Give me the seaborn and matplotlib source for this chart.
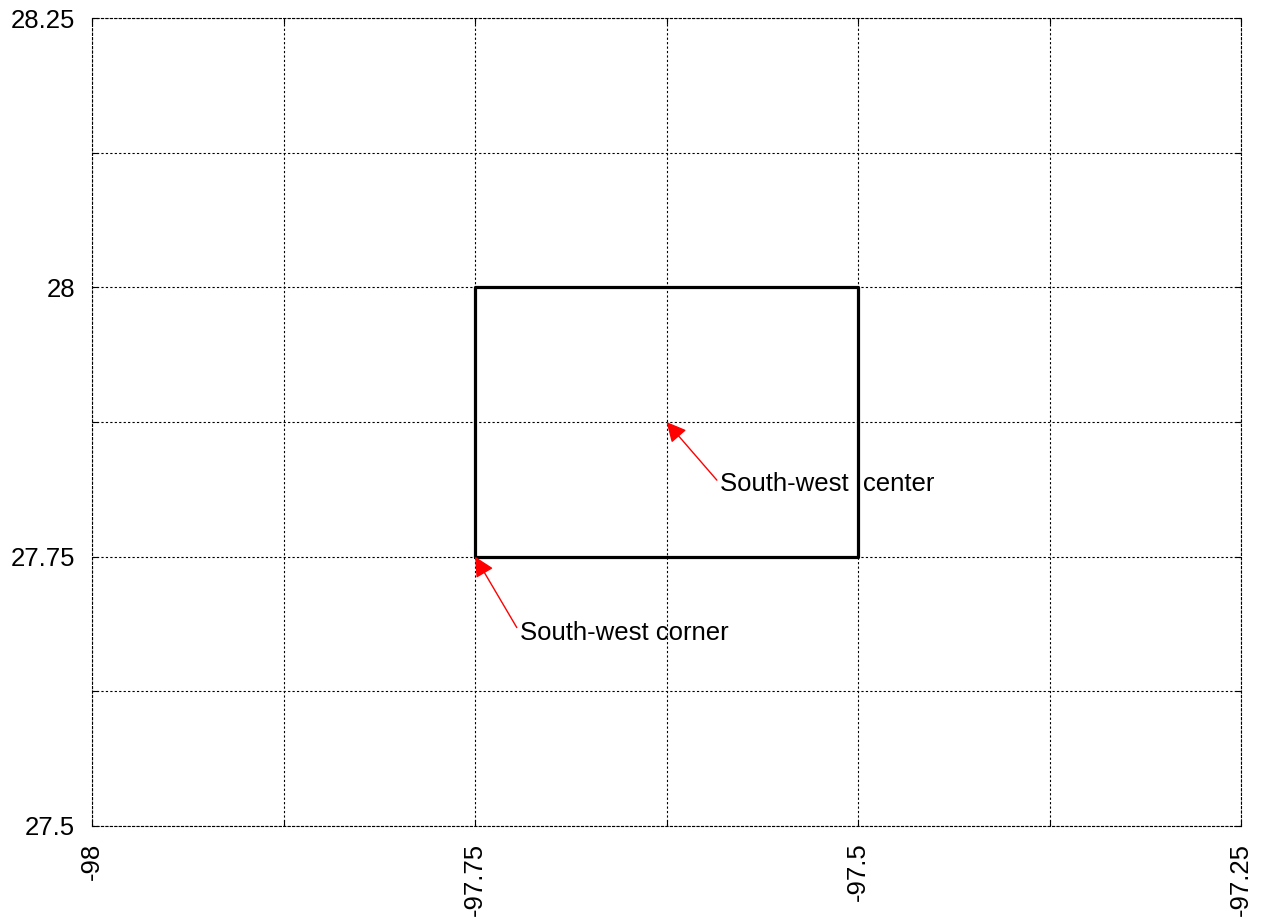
import matplotlib
matplotlib.use("Agg")
import matplotlib.pyplot as plt
import numpy as np
import seaborn as sns

# data
box_lon = [-97.75, -97.5, -97.5, -97.75, -97.75]
box_lat = [27.75, 27.75, 28.0, 28.0, 27.75]
x_ticks = [-98, -97.75, -97.5, -97.25]
x_labels = ["-98", "-97.75", "-97.5", "-97.25"]
y_ticks = [27.5, 27.75, 28.0, 28.25]
y_labels = ["27.5", "27.75", "28", "28.25"]
grid_step = 0.125

notes = ["South-west corner", "South-west  center"]
note_points = [(-97.75, 27.75), (-97.625, 27.875)]
note_text_pos = [(-97.7206, 27.679), (-97.590, 27.8175)]

sns.set_style("white")
plt.rcParams["font.family"] = ["Liberation Sans", "DejaVu Sans"]
plt.rcParams["text.color"] = "black"
plt.rcParams["xtick.color"] = "black"
plt.rcParams["ytick.color"] = "black"

fig = plt.figure(figsize=(12.66, 9.19), dpi=100)
ax = fig.add_axes([0.0727, 0.1012, 0.9076, 0.8792])

sns.lineplot(x=box_lon, y=box_lat, sort=False, estimator=None,
             color="black", linewidth=2.3, ax=ax)

ax.set_xlim(-98, -97.25)
ax.set_ylim(27.5, 28.25)
ax.set_xticks(x_ticks)
ax.set_xticklabels(x_labels, rotation=90, va="top")
ax.set_yticks(y_ticks)
ax.set_yticklabels(y_labels)
ax.set_xticks(np.arange(-98, -97.25 + 1e-9, grid_step), minor=True)
ax.set_yticks(np.arange(27.5, 28.25 + 1e-9, grid_step), minor=True)

dots = (0, (2, 2))
ax.grid(which="both", color="black", linestyle=dots, linewidth=0.8)
ax.tick_params(which="both", direction="in", length=4, width=0.8,
               top=True, right=True, bottom=True, left=True)
ax.tick_params(axis="both", which="major", labelsize=18.5, labelcolor="black", pad=12)
for s in ax.spines.values():
    s.set_visible(True)
    s.set_color("black")
    s.set_linestyle(dots)
    s.set_linewidth(0.8)

for txt, pt, tp in zip(notes, note_points, note_text_pos):
    ax.annotate(txt, xy=pt, xytext=tp, ha="left", va="center", fontsize=18.5,
                color="black",
                arrowprops=dict(arrowstyle="-|>", color="red", lw=1,
                                mutation_scale=30, relpos=(0, 0.5),
                                shrinkA=0, shrinkB=0))

fig.savefig("out.png", dpi=100)
